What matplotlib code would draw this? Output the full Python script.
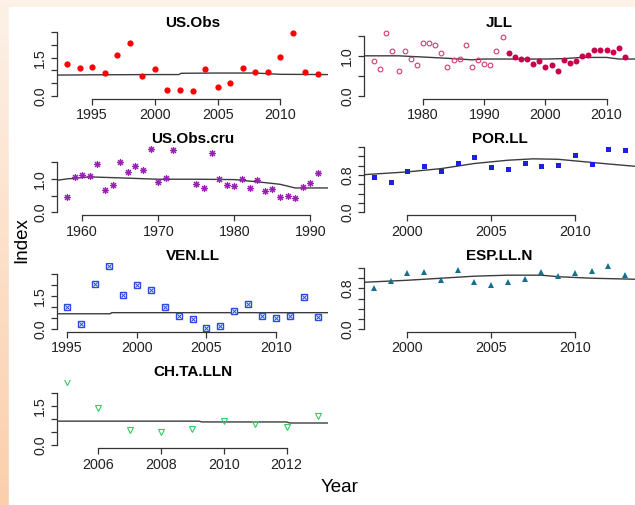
import numpy as np
import matplotlib
matplotlib.use('Agg')
import matplotlib.pyplot as plt
from matplotlib.colors import LinearSegmentedColormap

plt.rcParams['font.family'] = ['Liberation Sans', 'DejaVu Sans']

# US.Obs
us_years = list(range(1993, 2014))
us_vals = [1.25, 1.10, 1.14, 0.91, 1.62, 2.06, 0.77, 1.06, 0.23, 0.23, 0.21,
           1.06, 0.35, 0.50, 1.10, 0.95, 0.95, 1.51, 2.49, 0.93, 0.85]
us_fit_years = [1992.2, 1995, 2000, 2001.9, 2002.1, 2005, 2008, 2010, 2013.8]
us_fit_vals = [0.82, 0.83, 0.84, 0.84, 0.89, 0.90, 0.90, 0.85, 0.84]

# JLL (hollow = early period, filled = recent period)
jll_years_a = list(range(1972, 1994))
jll_vals_a = [0.87, 0.68, 1.58, 1.11, 0.63, 1.13, 0.93, 0.78, 1.32, 1.32, 1.26,
              1.08, 0.73, 0.89, 0.92, 1.28, 0.73, 0.90, 0.80, 0.76, 1.13, 1.47]
jll_years_b = list(range(1994, 2014))
jll_vals_b = [1.06, 0.97, 0.93, 0.93, 0.79, 0.87, 0.73, 0.77, 0.63, 0.89,
              0.83, 0.87, 0.99, 1.02, 1.14, 1.14, 1.14, 1.09, 1.19, 0.97]
jll_fit_years = [1970.4, 1976, 1980, 1985, 1988, 1990, 2000, 2003, 2006, 2010, 2012, 2014.6]
jll_fit_vals = [1.00, 1.00, 0.97, 0.93, 0.90, 0.92, 0.92, 0.93, 0.96, 0.96, 0.92, 0.92]

# US.Obs.cru
cru_years = list(range(1958, 1973)) + list(range(1975, 1992))
cru_vals = [0.46, 1.06, 1.11, 1.09, 1.44, 0.66, 0.83, 1.50, 1.22, 1.38, 1.27,
            1.89, 0.91, 1.03, 1.86,
            0.85, 0.73, 1.76, 1.01, 0.81, 0.78, 1.01, 0.74, 0.98, 0.63, 0.71,
            0.46, 0.48, 0.43, 0.76, 0.89, 1.19]
cru_fit_years = [1956.7, 1958, 1961, 1965, 1970, 1975, 1980, 1984, 1986, 1988, 1992.3]
cru_fit_vals = [0.96, 1.00, 1.06, 1.03, 0.99, 0.99, 0.98, 0.89, 0.84, 0.73, 0.73]

# POR.LL
por_years = list(range(1998, 2014))
por_vals = [0.75, 0.66, 0.89, 0.99, 0.89, 1.05, 1.18, 0.97, 0.94, 1.06,
            0.99, 1.01, 1.23, 1.04, 1.36, 1.35]
por_fit_years = [1997.4, 2000, 2002, 2004, 2006, 2007.5, 2009, 2010.5, 2012, 2013.6]
por_fit_vals = [0.81, 0.87, 0.94, 1.05, 1.12, 1.15, 1.14, 1.09, 1.04, 0.99]

# VEN.LL
ven_years = list(range(1995, 2014))
ven_vals = [0.98, 0.21, 2.06, 2.88, 1.55, 2.01, 1.78, 0.98, 0.57, 0.44,
            0.03, 0.15, 0.81, 1.15, 0.58, 0.52, 0.58, 1.43, 0.55]
ven_fit_years = [1994.3, 1998.1, 1998.2, 2013.7]
ven_fit_vals = [0.69, 0.69, 0.74, 0.74]

# ESP.LL.N
esp_years = list(range(1998, 2014))
esp_vals = [0.81, 0.95, 1.11, 1.13, 0.97, 1.17, 0.92, 0.87, 0.93, 0.98,
            1.13, 1.04, 1.10, 1.15, 1.25, 1.07]
esp_fit_years = [1997.4, 2000, 2002, 2004, 2006, 2008, 2009, 2011, 2013.6]
esp_fit_vals = [0.92, 0.96, 1.00, 1.04, 1.06, 1.06, 1.03, 1.00, 0.98]

# CH.TA.LLN
ch_years = list(range(2005, 2014))
ch_vals = [2.40, 1.40, 0.58, 0.50, 0.61, 0.93, 0.80, 0.71, 1.11]
ch_fit_years = [2004.7, 2009.2, 2009.3, 2012.0, 2012.1, 2013.3]
ch_fit_vals = [0.92, 0.92, 0.89, 0.89, 0.85, 0.85]

W, H = 635, 505
fig = plt.figure(figsize=(W / 100, H / 100), dpi=100)

# peach border with gradient, white page
bg = fig.add_axes([0, 0, 1, 1], zorder=-10)
cmap = LinearSegmentedColormap.from_list('peach', ['#fdf1e7', '#fbcfac'])
bg.imshow(np.linspace(0, 1, 100).reshape(-1, 1), aspect='auto', cmap=cmap,
          extent=[0, 1, 0, 1], origin='upper')
bg.add_patch(plt.Rectangle((9 / W, 0), 1, 1 - 7 / H, color='white'))
bg.set_xlim(0, 1)
bg.set_ylim(0, 1)
bg.axis('off')


def panel(col, row, title, xticks, ystep, ytop, ylabels, xlim):
    lefts = [57, 364]
    rights = [328, 635]
    tops = [30, 146.5, 263, 379.5]
    h = 68.5
    l, r, t = lefts[col], rights[col], tops[row]
    ax = fig.add_axes([l / W, 1 - (t + h) / H, (r - l) / W, h / H])
    ax.set_xlim(*xlim)
    yt = np.arange(0, ytop + ystep / 2, ystep)
    ax.set_yticks(yt)
    ax.set_yticklabels(['%.1f' % v if any(abs(v - s) < 1e-6 for s in ylabels) else ''
                        for v in yt], rotation=90, va='center')
    ax.set_xticks(xticks)
    ax.set_xticklabels([str(x) for x in xticks])
    for s in ['top', 'right']:
        ax.spines[s].set_visible(False)
    ax.spines['left'].set_bounds(0, yt[-1])
    ax.spines['bottom'].set_bounds(xticks[0], xticks[-1])
    for s in ['left', 'bottom']:
        ax.spines[s].set_color('#333333')
        ax.spines[s].set_linewidth(0.9)
    ax.tick_params(length=4, width=0.9, color='#333333', labelsize=10.3,
                   labelcolor='#222222')
    ax.tick_params(axis='x', pad=3)
    ax.tick_params(axis='y', pad=3)
    ax.set_title(title, fontsize=11, fontweight='bold', pad=2)
    ax.set_facecolor('none')
    return ax


def set_ylim(ax, vals):
    m = max(vals)
    ax.set_ylim(-0.04 * m, 1.04 * m)


fitkw = dict(color='#3c3c3c', lw=1.0, zorder=1)

# US.Obs
ax = panel(0, 0, 'US.Obs', [1995, 2000, 2005, 2010], 0.5, 2.5, [0.0, 1.5], (1992.2, 2013.8))
ax.plot(us_fit_years, us_fit_vals, **fitkw)
ax.plot(us_years, us_vals, 'o', color='#ff0000', ms=4.5, mew=0)
set_ylim(ax, us_vals)

# JLL
ax = panel(1, 0, 'JLL', [1980, 1990, 2000, 2010], 0.5, 1.5, [0.0, 1.0], (1970.36, 2014.64))
ax.plot(jll_fit_years, jll_fit_vals, **fitkw)
ax.plot(jll_years_a, jll_vals_a, 'o', mfc='none', mec='#d63a72', ms=3.4, mew=0.8)
ax.plot(jll_years_b, jll_vals_b, 'o', color='#c8004b', ms=4.3, mew=0)
set_ylim(ax, jll_vals_a + jll_vals_b)

# US.Obs.cru
ax = panel(0, 1, 'US.Obs.cru', [1960, 1970, 1980, 1990], 0.5, 1.5, [0.0, 1.0], (1956.68, 1992.32))
ax.plot(cru_fit_years, cru_fit_vals, **fitkw)
ax.plot(cru_years, cru_vals, marker=(8, 2, 0), ls='none', color='#9a1fb5', ms=5, mew=0.8)
set_ylim(ax, cru_vals)

# POR.LL
ax = panel(1, 1, 'POR.LL', [2000, 2005, 2010], 0.2, 1.4, [0.0, 0.8], (1997.4, 2013.6))
ax.plot(por_fit_years, por_fit_vals, **fitkw)
ax.plot(por_years, por_vals, 's', color='#1f1fe0', ms=3.6, mew=0)
set_ylim(ax, por_vals)

# VEN.LL
ax = panel(0, 2, 'VEN.LL', [1995, 2000, 2005, 2010], 0.5, 2.5, [0.0, 1.5], (1994.28, 2013.72))
ax.plot(ven_fit_years, ven_fit_vals, **fitkw)
ax.plot(ven_years, ven_vals, 's', mfc='white', mec='#2a4be0', ms=4.3, mew=1.0)
ax.plot(ven_years, ven_vals, 'x', color='#2a4be0', ms=3.0, mew=0.7)
set_ylim(ax, ven_vals)

# ESP.LL.N
ax = panel(1, 2, 'ESP.LL.N', [2000, 2005, 2010], 0.2, 1.2, [0.0, 0.8], (1997.4, 2013.6))
ax.plot(esp_fit_years, esp_fit_vals, **fitkw)
ax.plot(esp_years, esp_vals, '^', color='#13708f', ms=4.4, mew=0)
set_ylim(ax, esp_vals)

# CH.TA.LLN
ax = panel(0, 3, 'CH.TA.LLN', [2006, 2008, 2010, 2012], 0.5, 2.0, [0.0, 1.5], (2004.68, 2013.32))
ax.plot(ch_fit_years, ch_fit_vals, **fitkw)
ax.plot(ch_years, ch_vals, 'v', mfc='none', mec='#2fcc63', ms=4.4, mew=0.8)
set_ylim(ax, ch_vals)

fig.text(22 / W, 1 - 240 / H, 'Index', rotation=90, ha='center', va='center', fontsize=13.5)
fig.text(340 / W, 1 - 487 / H, 'Year', ha='center', va='center', fontsize=13.5)

fig.savefig('out.png', dpi=100)
